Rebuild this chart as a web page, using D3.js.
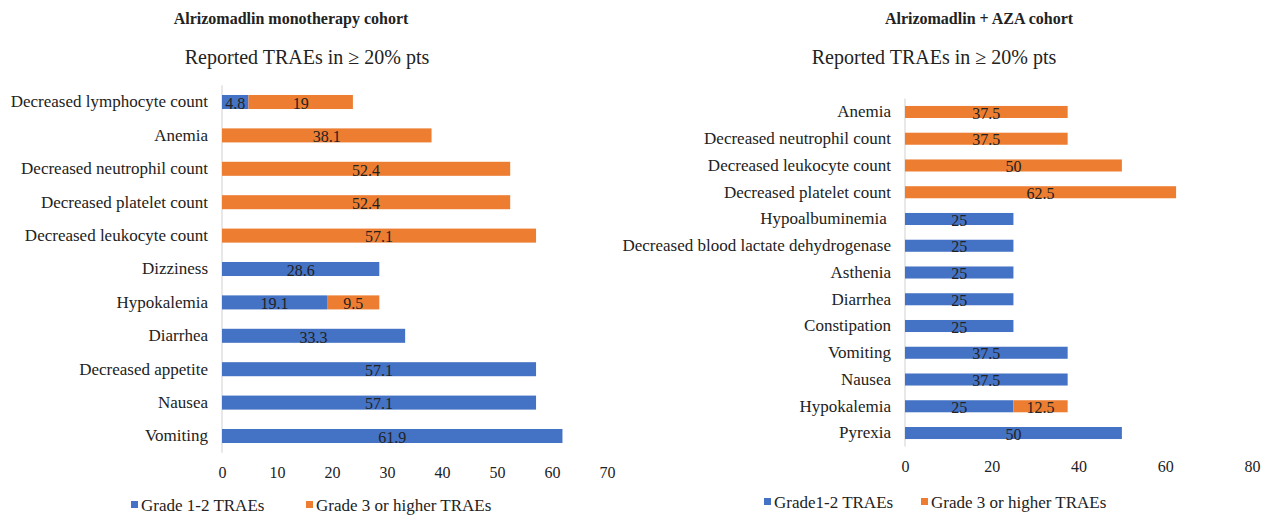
<!DOCTYPE html>
<html>
<head>
<meta charset="utf-8">
<script src="https://cdn.jsdelivr.net/npm/d3@7"></script>
<style>
  body { margin: 0; background: #fff; }
  svg text { font-family: "Liberation Serif", "Times New Roman", serif; fill: #222; white-space: pre; }
</style>
</head>
<body>
<svg id="chart" width="1275" height="515"></svg>
<script>
// ---------- Data ----------
const leftCategories = ["Decreased lymphocyte count", "Anemia", "Decreased neutrophil count", "Decreased platelet count",
  "Decreased leukocyte count", "Dizziness", "Hypokalemia", "Diarrhea", "Decreased appetite", "Nausea", "Vomiting"];
const leftGrade12 = [4.8, 0, 0, 0, 0, 28.6, 19.1, 33.3, 57.1, 57.1, 61.9];
const leftGrade3 = [19, 38.1, 52.4, 52.4, 57.1, 0, 9.5, 0, 0, 0, 0];
const leftTicks = [0, 10, 20, 30, 40, 50, 60, 70];

const rightCategories = ["Anemia", "Decreased neutrophil count", "Decreased leukocyte count", "Decreased platelet count",
  "Hypoalbuminemia ", "Decreased blood lactate dehydrogenase", "Asthenia", "Diarrhea", "Constipation", "Vomiting",
  "Nausea", "Hypokalemia", "Pyrexia"];
const rightGrade12 = [0, 0, 0, 0, 25, 25, 25, 25, 25, 37.5, 37.5, 25, 50];
const rightGrade3 = [37.5, 37.5, 50, 62.5, 0, 0, 0, 0, 0, 0, 0, 12.5, 0];
const rightTicks = [0, 20, 40, 60, 80];

const leftTitle = "Alrizomadlin monotherapy cohort";
const rightTitle = "Alrizomadlin + AZA cohort";
const subtitle = "Reported TRAEs in \u2265 20% pts";
const leftLegend = ["Grade 1-2 TRAEs", "Grade 3 or higher TRAEs"];
const rightLegend = ["Grade1-2 TRAEs", "Grade 3 or higher TRAEs"];

const BLUE = "#4472C4", ORANGE = "#ED7D31";
const svg = d3.select("#chart");

function drawPanel(cfg) {
  const g = svg.append("g");
  const x = d3.scaleLinear().domain(cfg.domain).range(cfg.xRange);
  const y = d3.scaleBand().domain(cfg.cats).range(cfg.yRange)
    .paddingInner(cfg.pad).paddingOuter(cfg.pad / 2);

  // titles
  g.append("text").attr("x", cfg.titleX).attr("y", 24).attr("text-anchor", "middle")
    .style("font-size", "16px").style("font-weight", "bold").text(cfg.title);
  g.append("text").attr("x", cfg.subX).attr("y", 64).attr("text-anchor", "middle")
    .style("font-size", "20px").text(subtitle);

  // vertical axis line
  g.append("line").attr("x1", x(0)).attr("x2", x(0))
    .attr("y1", cfg.yRange[0]).attr("y2", cfg.yRange[1])
    .attr("stroke", "#d9d9d9").attr("stroke-width", 1.2);

  // category labels
  const yAxis = d3.axisLeft(y).tickSize(0).tickPadding(cfg.labelPad);
  const ya = g.append("g").attr("transform", `translate(${x(0)},0)`).call(yAxis);
  ya.select(".domain").remove();
  ya.selectAll("text").style("font-size", "17px").attr("fill", "#222")
    .style("font-family", '"Liberation Serif", "Times New Roman", serif');

  // x axis
  const xAxis = d3.axisBottom(x).tickValues(cfg.ticks).tickSize(0).tickPadding(0);
  const xa = g.append("g").attr("transform", `translate(0,${cfg.tickY})`).call(xAxis);
  xa.select(".domain").remove();
  xa.selectAll("text").style("font-size", "16px").attr("fill", "#333")
    .style("font-family", '"Liberation Serif", "Times New Roman", serif');

  const rows = cfg.cats.map((c, i) => ({ c, a: cfg.s1[i], b: cfg.s2[i] }));
  // bars
  g.selectAll(".b1").data(rows.filter(d => d.a > 0)).join("rect")
    .attr("x", x(0)).attr("y", d => y(d.c)).attr("height", y.bandwidth())
    .attr("width", d => x(d.a) - x(0)).attr("fill", BLUE);
  g.selectAll(".b2").data(rows.filter(d => d.b > 0)).join("rect")
    .attr("x", d => x(d.a)).attr("y", d => y(d.c)).attr("height", y.bandwidth())
    .attr("width", d => x(d.a + d.b) - x(d.a)).attr("fill", ORANGE);

  // value labels
  g.selectAll(".l1").data(rows.filter(d => d.a > 0)).join("text")
    .attr("x", d => (x(0) + x(d.a)) / 2).attr("y", d => y(d.c) + y.bandwidth() / 2)
    .attr("dy", "0.42em").attr("text-anchor", "middle").style("font-size", "16px")
    .text(d => d.a);
  g.selectAll(".l2").data(rows.filter(d => d.b > 0)).join("text")
    .attr("x", d => (x(d.a) + x(d.a + d.b)) / 2).attr("y", d => y(d.c) + y.bandwidth() / 2)
    .attr("dy", "0.42em").attr("text-anchor", "middle").style("font-size", "16px")
    .text(d => d.b);

  // legend
  const lg = g.append("g");
  cfg.legend.forEach((t, i) => {
    const lx = cfg.legendX[i];
    lg.append("rect").attr("x", lx).attr("y", cfg.legendY - 10).attr("width", 7).attr("height", 7)
      .attr("fill", i === 0 ? BLUE : ORANGE);
    lg.append("text").attr("x", lx + 10).attr("y", cfg.legendY).style("font-size", "17px").text(t);
  });
}

drawPanel({
  cats: leftCategories, s1: leftGrade12, s2: leftGrade3, ticks: leftTicks,
  domain: [0, 70], xRange: [222, 607], yRange: [85.3, 452.7], pad: 0.58,
  title: leftTitle, titleX: 291, subX: 307, labelPad: 14, tickY: 467,
  legend: leftLegend, legendX: [131, 306], legendY: 511
});
drawPanel({
  cats: rightCategories, s1: rightGrade12, s2: rightGrade3, ticks: rightTicks,
  domain: [0, 80], xRange: [905, 1252], yRange: [98.6, 446.4], pad: 0.55,
  title: rightTitle, titleX: 979, subX: 934, labelPad: 14, tickY: 461,
  legend: rightLegend, legendX: [764, 921], legendY: 508
});
</script>
</body>
</html>
